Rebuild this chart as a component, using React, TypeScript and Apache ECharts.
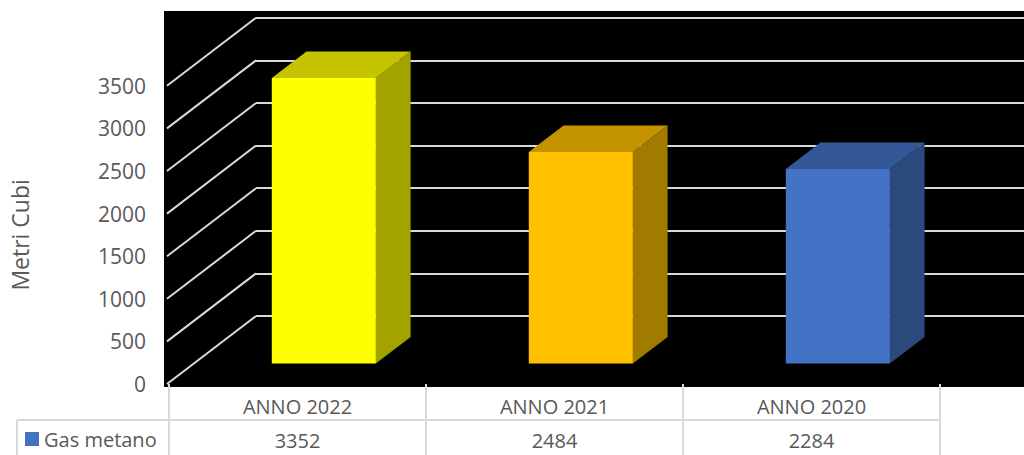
import React, { useEffect, useRef } from "react";
import * as echarts from "echarts";

const categories = ["ANNO 2022", "ANNO 2021", "ANNO 2020"];
const values = [3352, 2484, 2284];
const yTicks = [0, 500, 1000, 1500, 2000, 2500, 3000, 3500];
const seriesName = "Gas metano";
const yAxisName = "Metri Cubi";

const frontColors = ["#FFFF00", "#FFC000", "#4472C4"];
const topColors = ["#C4C400", "#C49300", "#345897"];
const sideColors = ["#A3A300", "#A07B00", "#2C497D"];

const FONT = "'Open Sans', 'Liberation Sans', sans-serif";
const TEXT = "#595959";
const LINE = "#d9d9d9";
const DEPTH_DX = 89;
const DEPTH_DY = -68;
const D0 = 0.3;
const DB = 0.39;

export default function App() {
  const ref = useRef<HTMLDivElement>(null);
  useEffect(() => {
    if (!ref.current) return;
    const chart = echarts.init(ref.current, null, { renderer: "svg" });
    const option: any = {
      animation: false,
      backgroundColor: "#ffffff",
      textStyle: { fontFamily: FONT },
      graphic: [
        {
          type: "rect",
          z: -10,
          silent: true,
          shape: { x: 164, y: 11, width: 860, height: 376 },
          style: { fill: "#000000" },
        },
        {
          type: "line",
          silent: true,
          shape: { x1: 17, y1: 420, x2: 940, y2: 420 },
          style: { stroke: LINE, lineWidth: 2 },
        },
        {
          type: "line",
          silent: true,
          shape: { x1: 17, y1: 420, x2: 17, y2: 455 },
          style: { stroke: LINE, lineWidth: 2 },
        },
      ],
      legend: {
        left: 25,
        top: 429,
        padding: 0,
        itemWidth: 14,
        itemHeight: 14,
        selectedMode: false,
        textStyle: { fontSize: 20, color: TEXT, fontFamily: FONT },
        data: [{ name: seriesName, icon: "rect", itemStyle: { color: "#4472C4" } }],
      },
      grid: [
        { left: 169, right: 84, top: 85.8, bottom: 71, containLabel: false, outerBoundsMode: "none" },
        { left: 256, right: 0, top: 17.8, bottom: 139, containLabel: false, outerBoundsMode: "none" },
      ],
      xAxis: [
        {
          type: "category",
          gridIndex: 0,
          data: categories,
          boundaryGap: true,
          axisLine: { show: false },
          axisTick: {
            show: true,
            alignWithLabel: false,
            interval: 0,
            length: 71,
            lineStyle: { color: LINE, width: 2 },
          },
          axisLabel: { fontSize: 20, color: TEXT, fontFamily: FONT, margin: 12, interval: 0 },
          splitLine: { show: false },
        },
        {
          type: "category",
          gridIndex: 0,
          position: "bottom",
          offset: 34,
          data: categories,
          axisLine: { show: false },
          axisTick: { show: false },
          axisLabel: {
            fontSize: 20,
            color: TEXT,
            fontFamily: FONT,
            margin: 12,
            interval: 0,
            formatter: (_v: string, i: number) => String(values[i]),
          },
        },
        { type: "value", gridIndex: 1, show: false, min: 0, max: 1 },
      ],
      yAxis: [
        {
          type: "value",
          gridIndex: 0,
          min: 0,
          max: 3500,
          interval: 500,
          name: yAxisName,
          nameLocation: "middle",
          nameRotate: 90,
          nameGap: 138,
          nameTextStyle: { fontSize: 23, color: TEXT, fontFamily: FONT },
          axisLine: { show: false },
          axisTick: { show: false },
          splitLine: { show: false },
          axisLabel: {
            fontSize: 21,
            color: TEXT,
            fontFamily: FONT,
            margin: 23,
            formatter: (v: number) => String(v),
          },
        },
        {
          type: "value",
          gridIndex: 1,
          min: 0,
          max: 3500,
          interval: 500,
          axisLine: { show: false },
          axisTick: { show: false },
          axisLabel: { show: false },
          splitLine: { show: true, lineStyle: { color: LINE, width: 2 } },
        },
      ],
      series: [
        {
          type: "custom",
          name: "floorLines",
          xAxisIndex: 0,
          yAxisIndex: 0,
          z: 1,
          silent: true,
          clip: false,
          data: yTicks.map((v) => [0, v]),
          encode: { x: 0, y: 1 },
          renderItem: (params: any, api: any) => {
            const y = api.coord([0, api.value(1)])[1];
            const x0 = params.coordSys.x - 2;
            return {
              type: "line",
              shape: { x1: x0, y1: y, x2: x0 + DEPTH_DX, y2: y + DEPTH_DY },
              style: { stroke: LINE, lineWidth: 2 },
            };
          },
        },
        {
          type: "custom",
          name: seriesName,
          xAxisIndex: 0,
          yAxisIndex: 0,
          z: 3,
          clip: false,
          itemStyle: { color: "#4472C4" },
          data: values.map((v, i) => [i, v]),
          encode: { x: 0, y: 1 },
          renderItem: (params: any, api: any) => {
            const i = params.dataIndex;
            const cat = api.value(0);
            const c0 = api.coord([cat, 0]);
            const c1 = api.coord([cat, api.value(1)]);
            const bw = api.size([1, 0])[0];
            const bandLeft = c0[0] - bw / 2;
            const fl = bandLeft + 0.4 * bw;
            const fr = fl + 0.405 * bw;
            const yBase = c0[1] + D0 * DEPTH_DY;
            const yTop = c1[1] + D0 * DEPTH_DY;
            const sdx = DB * DEPTH_DX;
            const sdy = DB * DEPTH_DY;
            return {
              type: "group",
              children: [
                {
                  type: "polygon",
                  shape: {
                    points: [
                      [fr, yTop],
                      [fr + sdx, yTop + sdy],
                      [fr + sdx, yBase + sdy],
                      [fr, yBase],
                    ],
                  },
                  style: { fill: sideColors[i] },
                },
                {
                  type: "polygon",
                  shape: {
                    points: [
                      [fl, yTop],
                      [fr, yTop],
                      [fr + sdx, yTop + sdy],
                      [fl + sdx, yTop + sdy],
                    ],
                  },
                  style: { fill: topColors[i] },
                },
                {
                  type: "rect",
                  shape: { x: fl, y: yTop, width: fr - fl, height: yBase - yTop },
                  style: { fill: frontColors[i] },
                },
              ],
            };
          },
        },
      ],
    };
    chart.setOption(option);
    return () => chart.dispose();
  }, []);
  return (
    <div
      ref={ref}
      style={{ position: "fixed", left: 0, top: 0, width: 1024, height: 455, background: "#fff" }}
    />
  );
}
